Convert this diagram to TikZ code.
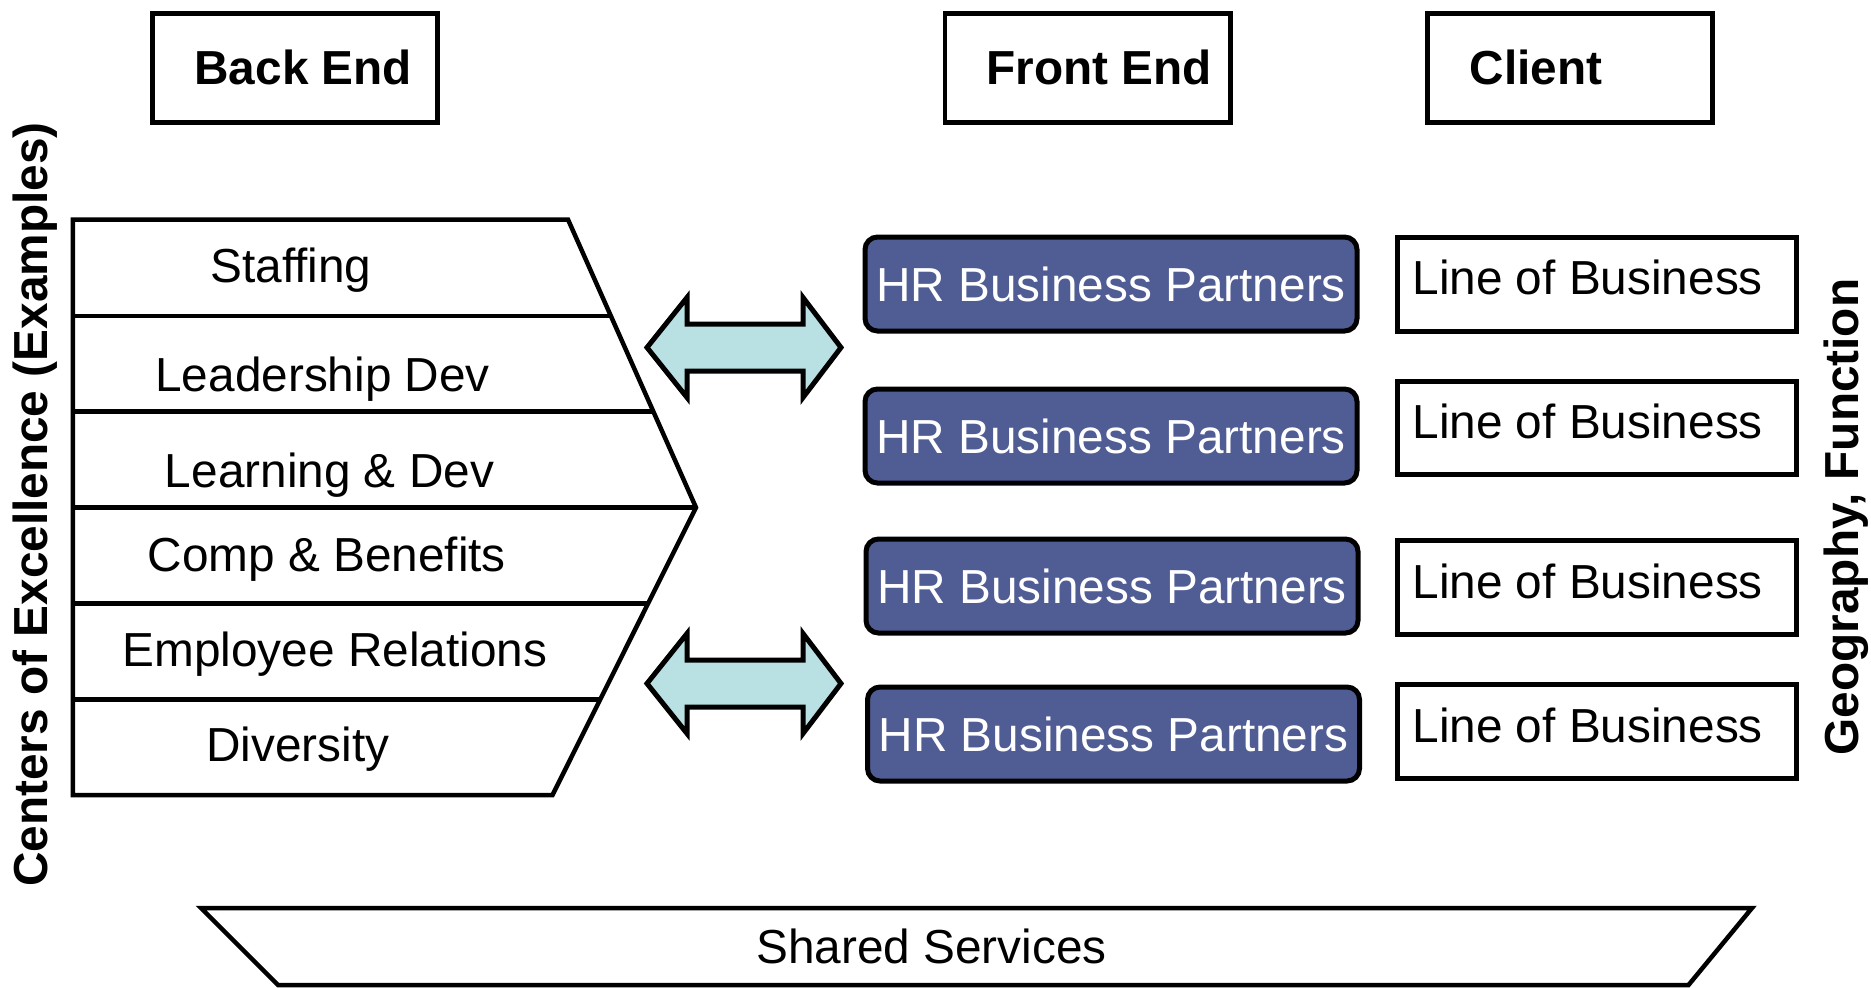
\documentclass[tikz,border=0pt]{standalone}
\usepackage{fontspec}
\setmainfont{Liberation Sans}
\definecolor{hrblue}{HTML}{505C94}
\definecolor{arrowfill}{HTML}{B9E0E2}
\begin{document}
\begin{tikzpicture}[x=0.4pt,y=-0.4pt,
  font=\fontsize{19.1pt}{22pt}\selectfont,
  hdrbox/.style={draw,line width=1.9pt,minimum width=114.1pt,minimum height=43.7pt,inner sep=0pt},
  hdrtxt/.style={anchor=base west,inner sep=0pt,font=\fontsize{19.1pt}{22pt}\selectfont\bfseries},
  hrbox/.style={draw,line width=2pt,fill=hrblue,rounded corners=5pt,minimum width=196.8pt,minimum height=37.6pt,inner sep=0pt,text=white},
  lobbox/.style={draw,line width=2pt,minimum width=159.6pt,minimum height=37.4pt,inner sep=0pt},
  txt/.style={inner sep=0pt},
  sidetxt/.style={inner sep=0pt,anchor=base,rotate=90,font=\fontsize{19.1pt}{22pt}\selectfont\bfseries},
  shapeline/.style={line width=1.8pt,line join=miter},
  blockarrow/.style={draw,line width=2pt,fill=arrowfill,line join=miter}
]
\useasboundingbox (0,0) rectangle (1871,987);

% header boxes
\node[hdrbox] (be) at (295,68) {};
\node[hdrbox] (fe) at (1087.5,68) {};
\node[hdrbox] (cl) at (1570,68) {};
\node[hdrtxt] (betxt) at (194,84) {Back End};
\node[hdrtxt] (fetxt) at (986,84) {Front End};
\node[hdrtxt] (cltxt) at (1469,84) {Client};

% centers of excellence stack
\coordinate (ca) at (72.8,219.5);
\coordinate (cb) at (568,219.5);
\coordinate (cp) at (696,507.5);
\coordinate (cd) at (552.5,795);
\coordinate (ce) at (72.8,795);
\draw[shapeline] (ca) -- (cb) -- (cp) -- (cd) -- (ce) -- cycle;
\draw[shapeline] (72.8,316) -- (610.9,316);
\draw[shapeline] (72.8,411.5) -- (653.3,411.5);
\draw[shapeline] (72.8,507.5) -- (cp);
\draw[shapeline] (72.8,603.5) -- (648.1,603.5);
\draw[shapeline] (72.8,699.5) -- (600.2,699.5);

\node[txt,anchor=base] (staff) at (291,282.3) {Staffing};
\node[txt,anchor=base] (lead) at (322.6,391) {Leadership Dev};
\node[txt,anchor=base] (learn) at (329.5,487) {Learning \& Dev};
\node[txt,anchor=base] (comp) at (326.7,571.7) {Comp \& Benefits};
\node[txt,anchor=base] (empl) at (335,666.7) {Employee Relations};
\node[txt,anchor=base] (div) at (298,761.7) {Diversity};

% block arrows
\draw[blockarrow] (647,347.5) -- (687,297.5) -- (687,324) -- (803,324) -- (803,297.5) -- (841,347.5) -- (803,397.5) -- (803,371) -- (687,371) -- (687,397.5) -- cycle;
\draw[blockarrow] (647,683.5) -- (687,633.5) -- (687,660) -- (803,660) -- (803,633.5) -- (841,683.5) -- (803,733.5) -- (803,707) -- (687,707) -- (687,733.5) -- cycle;

% HR business partners
\node[hrbox] (hr1) at (1111,284) {HR Business Partners};
\node[hrbox] (hr2) at (1111,436) {HR Business Partners};
\node[hrbox] (hr3) at (1112,586) {HR Business Partners};
\node[hrbox] (hr4) at (1113.5,734) {HR Business Partners};

% line of business
\node[lobbox] (lob1) at (1597,284.5) {};
\node[lobbox] (lob2) at (1597,428) {};
\node[lobbox] (lob3) at (1597,587.5) {};
\node[lobbox] (lob4) at (1597,731.7) {};
\node[txt,anchor=base west] (lob1t) at (1412,294.5) {Line of Business};
\node[txt,anchor=base west] (lob2t) at (1412,438) {Line of Business};
\node[txt,anchor=base west] (lob3t) at (1412,598) {Line of Business};
\node[txt,anchor=base west] (lob4t) at (1412,742.5) {Line of Business};

% side labels
\node[sidetxt] (coe) at (47.2,504.5) {Centers of Excellence (Examples)};
\node[sidetxt] (geo) at (1858,517) {Geography, Function};

% shared services
\draw[shapeline] (201,908) -- (1752,908) -- (1688.5,985) -- (278,985) -- cycle;
\node[txt,anchor=base] (ss) at (931.5,963.3) {Shared Services};
\end{tikzpicture}
\end{document}
